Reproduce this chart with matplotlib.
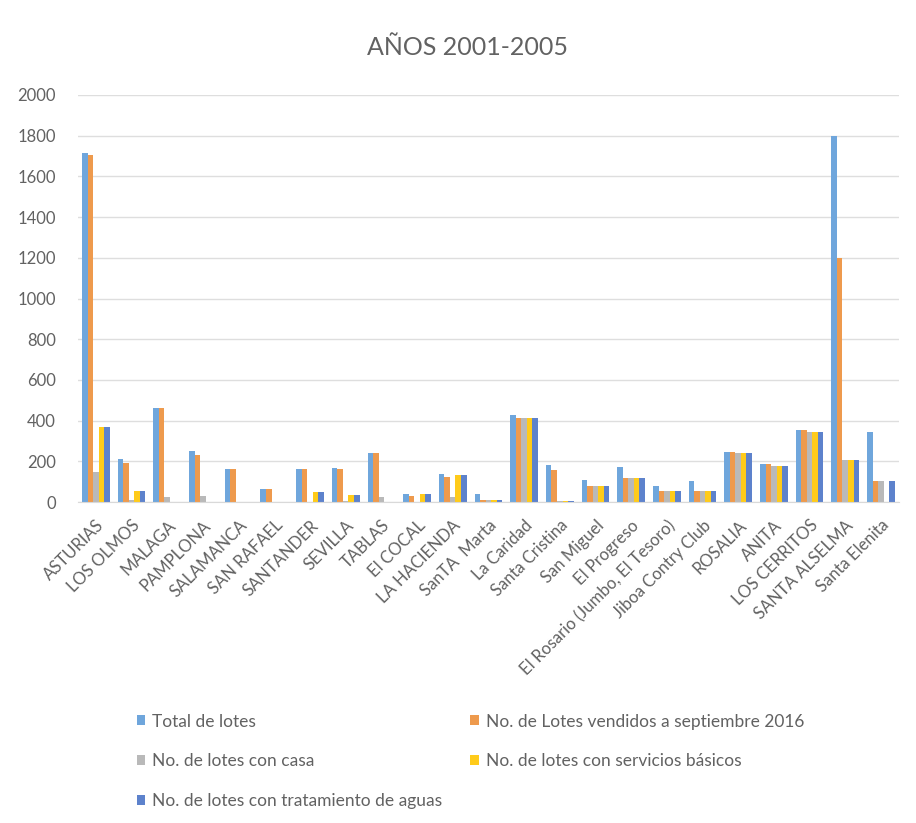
import numpy as np
import matplotlib.pyplot as plt

plt.rcParams['font.family'] = ['Lato', 'DejaVu Sans']

categorias = ['ASTURIAS', 'LOS OLMOS', 'MALAGA', 'PAMPLONA', 'SALAMANCA', 'SAN RAFAEL',
              'SANTANDER', 'SEVILLA', 'TABLAS', 'El COCAL', 'LA HACIENDA', 'SanTA  Marta',
              'La Caridad', 'Santa Cristina', 'San Miguel', 'El Progreso',
              'El Rosario (Jumbo, El Tesoro)', 'Jiboa Contry Club', 'ROSALIA', 'ANITA',
              'LOS CERRITOS', 'SANTA ALSELMA', 'Santa Elenita']

total = [1716, 210, 460, 250, 160, 65, 160, 165, 240, 40, 140, 40,
         430, 180, 110, 170, 80, 105, 245, 185, 355, 1800, 345]
vendidos = [1706, 190, 460, 230, 160, 65, 160, 160, 240, 30, 125, 10,
            415, 155, 80, 120, 55, 55, 245, 185, 355, 1200, 105]
casa = [150, 10, 25, 30, 0, 0, 0, 5, 25, 0, 25, 10,
        415, 5, 80, 120, 55, 55, 240, 175, 345, 205, 105]
servicios = [370, 55, 0, 0, 0, 0, 50, 35, 0, 40, 135, 10,
             415, 5, 80, 120, 55, 55, 240, 175, 345, 205, 0]
tratamiento = [370, 55, 0, 0, 0, 0, 50, 35, 0, 40, 135, 8,
               415, 5, 80, 120, 55, 55, 240, 175, 345, 205, 105]

series = [
    ('Total de lotes', total, '#6FA6DC'),
    ('No. de Lotes vendidos a septiembre 2016', vendidos, '#EE9A4D'),
    ('No. de lotes con casa', casa, '#B9B9B9'),
    ('No. de lotes con servicios básicos', servicios, '#FFCB1A'),
    ('No. de lotes con tratamiento de aguas', tratamiento, '#5D82CC'),
]
txt_color = '#626262'

fig = plt.figure(figsize=(9.16, 8.23), dpi=100)
ax = fig.add_axes([0.0852, 0.390, 0.896, 0.4946])

x = np.arange(len(categorias))
w = 0.155
handles = {}
for i, (name, vals, color) in enumerate(series):
    b = ax.bar(x + (i - 2) * w, vals, width=w, color=color, label=name, zorder=2)
    handles[name] = b

ax.set_xlim(-0.5, len(categorias) - 0.5)
ax.set_ylim(0, 2000)
ax.set_yticks(range(0, 2001, 200))
ax.grid(axis='y', color='#dedede', linewidth=1, zorder=0)
for s in ['top', 'right', 'left']:
    ax.spines[s].set_visible(False)
ax.spines['bottom'].set_color('#d9d9d9')
ax.tick_params(axis='both', length=0, colors=txt_color, labelsize=12)
ax.tick_params(axis='y', pad=16)
ax.set_xticks(x)
ax.set_xticklabels(categorias, rotation=45, ha='right', rotation_mode='anchor')
ax.tick_params(axis='x', pad=11)

fig.text(0.51, 0.942, 'AÑOS 2001-2005', ha='center', va='center', fontsize=18, color=txt_color)

# legend goes row by row in the original, so reorder for column filling
order = ['Total de lotes', 'No. de lotes con casa', 'No. de lotes con tratamiento de aguas',
         'No. de Lotes vendidos a septiembre 2016', 'No. de lotes con servicios básicos']
leg = fig.legend([handles[n] for n in order], order, ncol=2, loc='upper left',
                 bbox_to_anchor=(0.132, 0.152), frameon=False, fontsize=12.5,
                 handlelength=0.5, handleheight=0.5, handletextpad=0.4,
                 labelspacing=1.36, columnspacing=1.6)
for t in leg.get_texts():
    t.set_color(txt_color)

fig.savefig('out.png', dpi=100)
